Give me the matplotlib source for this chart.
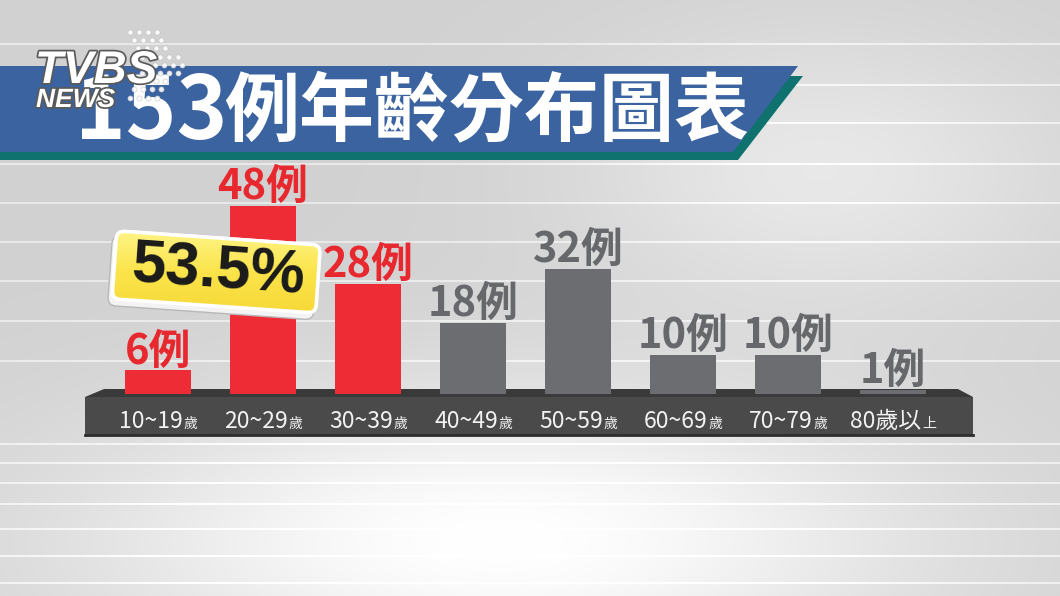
import numpy as np
import matplotlib
matplotlib.use("Agg")
import matplotlib.pyplot as plt
from matplotlib.patches import Polygon, Rectangle, FancyBboxPatch
from matplotlib.transforms import Affine2D
from matplotlib.colors import LinearSegmentedColormap
import matplotlib.patheffects as pe

plt.rcParams['font.family'] = ['Noto Sans CJK TC', 'DejaVu Sans']

# data
age_groups = ['10~19歲', '20~29歲', '30~39歲', '40~49歲',
              '50~59歲', '60~69歲', '70~79歲', '80歲以上']
cases = [6, 48, 28, 18, 32, 10, 10, 1]
highlight = [True, True, True, False, False, False, False, False]
title_number = '153'
title_text = '例年齡分布圖表'
share_text = '53.5%'

W, H = 1060, 596
fig = plt.figure(figsize=(W / 100, H / 100), dpi=100)

# background layer, pixel coordinates (y down)
bg = fig.add_axes([0, 0, 1, 1])
yy, xx = np.mgrid[0:H, 0:W]
shade = (0.82
         + 0.18 * np.exp(-((xx - 500) / 420) ** 2 - ((yy - 540) / 150) ** 2)
         + 0.09 * np.exp(-((xx - 820) / 250) ** 2 - ((yy - 170) / 140) ** 2))
# light stripes, they fade out where the backdrop is already white
stripe_rows = [43, 84, 122, 163, 202, 241, 280, 320, 360, 443, 462, 482,
               503, 528, 555, 582]
for y in stripe_rows:
    shade[y:y + 2, :] += 0.09
shade = np.clip(shade, 0, 1)
bg.imshow(np.dstack([shade] * 3), extent=(0, W, H, 0), aspect='auto')

# title banner
bg.add_patch(Polygon([(0, 76), (803, 76), (738, 160), (0, 160)],
                     closed=True, fc='#0f726f', ec='none'))
bg.add_patch(Polygon([(0, 66), (798, 66), (733, 152), (0, 152)],
                     closed=True, fc='#3a63a0', ec='none'))
bg.text(227, 139, title_number, fontsize=62, fontweight='bold',
        color='white', ha='right', va='baseline')
bg.text(224, 135, title_text, fontsize=54, fontweight='bold',
        color='white', ha='left', va='baseline')

# logo
rows = [(130, 4), (134, 4), (138, 4), (142, 5), (146, 5),
        (142, 5), (138, 4), (134, 4), (130, 4)]
for r, (x0, n) in enumerate(rows):
    bg.scatter(x0 + 9 * np.arange(n), np.full(n, 32 + 8.2 * r), s=14,
               color='white', edgecolors='#bbbbbb', linewidths=0.4,
               alpha=0.9, zorder=3)
shadow = [pe.withStroke(linewidth=2.5, foreground='#5a5a5a')]
bg.text(35, 83, 'TVBS', fontsize=33, fontweight='bold', fontstyle='italic',
        family='Liberation Sans', color='white', ha='left', va='baseline',
        path_effects=shadow, zorder=4)
bg.text(36, 107, 'NEWS', fontsize=19, fontweight='bold', fontstyle='italic',
        family='Liberation Sans', color='white', ha='left', va='baseline',
        path_effects=shadow, zorder=4)

# platform under the bars
bg.add_patch(Polygon([(85, 397), (104, 389), (958, 389), (973, 397)],
                     closed=True, fc='#3a3a3a', ec='none'))
bg.add_patch(Rectangle((85, 397), 888, 38, fc='#4a4a4a', ec='none'))
bg.plot([85, 973], [435, 435], color='#2d2d2d', lw=2)

bg.set_xlim(0, W)
bg.set_ylim(H, 0)
bg.axis('off')

# bar layer
ax = fig.add_axes([105.5 / W, (H - 394) / H, 840 / W, 196 / H])
ax.patch.set_alpha(0)
x = np.arange(len(cases))
bar_colors = ['#ee2c36' if h else '#6b6d70' for h in highlight]
text_colors = ['#e8282f' if h else '#66686b' for h in highlight]
ax.bar(x, cases, width=0.62, color=bar_colors, zorder=2)

for i, v in enumerate(cases):
    ax.annotate(f'{v}例', (i, v), xytext=(0, -2), textcoords='offset pixels',
                ha='center', va='bottom', fontsize=30, fontweight='bold',
                color=text_colors[i], annotation_clip=False)
    main, suffix = age_groups[i][:-1], age_groups[i][-1]
    t = ax.annotate(main, (i, 0), xytext=(-7, -27),
                    textcoords='offset pixels', ha='center', va='center',
                    fontsize=16.5, color='#f2f2f2', annotation_clip=False)
    ax.annotate(suffix, xy=(1, 0), xycoords=t, xytext=(1, 2),
                textcoords='offset pixels', ha='left', va='bottom',
                fontsize=10, color='#f2f2f2', annotation_clip=False)

ax.set_xlim(-0.5, 7.5)
ax.set_ylim(0, 50)
ax.axis('off')

# yellow badge on top
ov = fig.add_axes([0, 0, 1, 1])
ov.patch.set_alpha(0)
rot = Affine2D().rotate_deg_around(217, H - 275, -4)
trans = ov.transData + rot
ov.add_patch(FancyBboxPatch((110, 243), 206, 70,
                            boxstyle='round,pad=0,rounding_size=8',
                            fc='#f3f3f3', ec='#b8b8b8', lw=1,
                            transform=trans, zorder=1))
badge = FancyBboxPatch((114, 238), 204, 68,
                       boxstyle='round,pad=0,rounding_size=8',
                       fc='#fde84c', ec='white', lw=2.5,
                       transform=trans, zorder=2)
ov.add_patch(badge)
yellow = LinearSegmentedColormap.from_list('y', ['#fff68e', '#fbe44a',
                                                 '#f6d735'])
im = ov.imshow(np.linspace(0, 1, 100)[:, None], extent=(100, 335, 320, 225),
               cmap=yellow, aspect='auto', zorder=3)
im.set_clip_path(badge)
ov.add_patch(FancyBboxPatch((114, 238), 204, 68,
                            boxstyle='round,pad=0,rounding_size=8',
                            fc='none', ec='white', lw=2.5,
                            transform=trans, zorder=4))
ov.text(218, 272, share_text, fontsize=44, fontweight='bold',
        family='Liberation Sans', color='#1a1a1a', ha='center',
        va='center', rotation=-4, rotation_mode='anchor', zorder=5)
ov.set_xlim(0, W)
ov.set_ylim(H, 0)
ov.axis('off')

plt.savefig('out.png', dpi=100)
